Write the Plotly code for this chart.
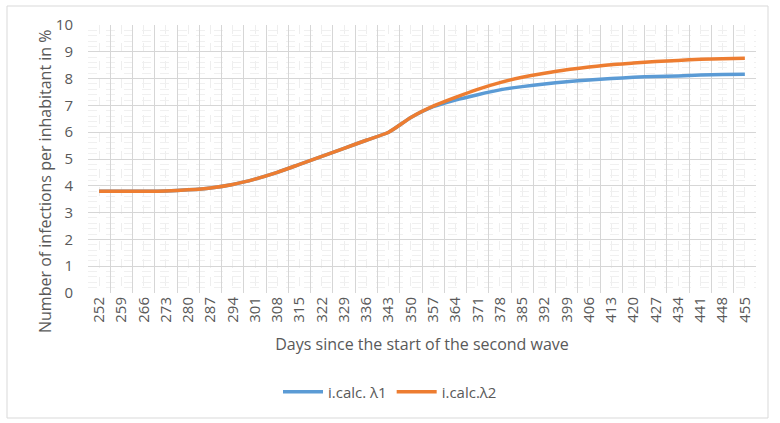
import plotly.graph_objects as go

days = [252, 259, 266, 273, 280, 287, 294, 301, 308, 315, 322, 329, 336, 343, 350,
        357, 364, 371, 378, 385, 392, 399, 406, 413, 420, 427, 434, 441, 448, 455]
lambda1 = [3.80, 3.80, 3.80, 3.81, 3.85, 3.92, 4.05, 4.25, 4.50, 4.80, 5.10, 5.40, 5.70, 6.00, 6.55,
           6.95, 7.20, 7.40, 7.58, 7.70, 7.80, 7.88, 7.95, 8.00, 8.05, 8.08, 8.10, 8.13, 8.15, 8.16]
lambda2 = [3.80, 3.80, 3.80, 3.81, 3.85, 3.92, 4.05, 4.25, 4.50, 4.80, 5.10, 5.40, 5.70, 6.00, 6.55,
           6.97, 7.30, 7.60, 7.85, 8.05, 8.20, 8.33, 8.43, 8.52, 8.58, 8.64, 8.68, 8.72, 8.74, 8.76]
names = ["i.calc. λ1", "i.calc.λ2"]
colors = ["#5B9BD5", "#ED7D31"]
tick_labels = [str(d) for d in days]
y_title = "Number of infections per inhabitant in %"
x_title = "Days since the start of the second wave"

FONT = "Open Sans"
TXT = "#595959"

fig = go.Figure()
for vals, name, col in zip([lambda1, lambda2], names, colors):
    fig.add_trace(go.Scatter(x=days, y=vals, mode="lines", name=name,
                             line=dict(color=col, width=3.5, shape="spline", smoothing=0.6)))

xr = [days[0] - 3.5, days[-1] + 3.5]
fig.update_layout(
    width=780, height=423,
    margin=dict(l=88, r=24, t=25, b=130),
    paper_bgcolor="white", plot_bgcolor="white",
    font=dict(family=FONT, color=TXT, size=14),
    showlegend=True,
    legend=dict(orientation="h", xref="container", x=0.5, xanchor="center",
                yref="container", y=0.073, yanchor="middle",
                font=dict(family=FONT, size=15, color=TXT), itemwidth=40),
    xaxis=dict(range=xr, tickmode="linear", tick0=xr[0], dtick=7,
               showticklabels=False, showgrid=True, gridcolor="#D6D6D6", gridwidth=1,
               zeroline=False, showline=False, ticks="",
               minor=dict(tick0=xr[0], dtick=3.5, showgrid=True, gridcolor="#EEEEEE",
                          griddash="dash", ticks="")),
    xaxis2=dict(range=xr, overlaying="x", matches="x", side="bottom",
                tickmode="array", tickvals=days, ticktext=tick_labels, tickangle=-90,
                showgrid=False, zeroline=False, showline=False, ticks="",
                tickfont=dict(size=15, color=TXT, family=FONT),
                title=dict(text=x_title,
                           font=dict(size=16, color=TXT, family=FONT), standoff=17)),
    yaxis=dict(range=[0, 10], tickmode="linear", tick0=0, dtick=1,
               showgrid=True, gridcolor="#D6D6D6", gridwidth=1, zeroline=False,
               showline=False, ticks="", tickfont=dict(size=15, color=TXT, family=FONT),
               ticklabelstandoff=14,
               minor=dict(dtick=0.2, showgrid=True, gridcolor="#F0F0F0", griddash="dash", ticks="")),
    annotations=[dict(text=y_title, textangle=-90, xref="paper", yref="paper",
                      x=(45 - 88) / 668, y=(293 - 181) / 268, xanchor="center", yanchor="middle",
                      showarrow=False, font=dict(size=16, color=TXT, family=FONT))],
)
# dummy trace on xaxis2 so its labels render
fig.add_trace(go.Scatter(x=[days[0]], y=[None], xaxis="x2", showlegend=False, hoverinfo="skip"))

fig.add_shape(type="rect", xref="paper", yref="paper",
              x0=-81 / 668, x1=(768 - 88) / 668, y0=-(418 - 293) / 268, y1=(293 - 6) / 268,
              line=dict(color="#D9D9D9", width=1), fillcolor="rgba(0,0,0,0)", layer="below")

fig.write_html("out.html")
